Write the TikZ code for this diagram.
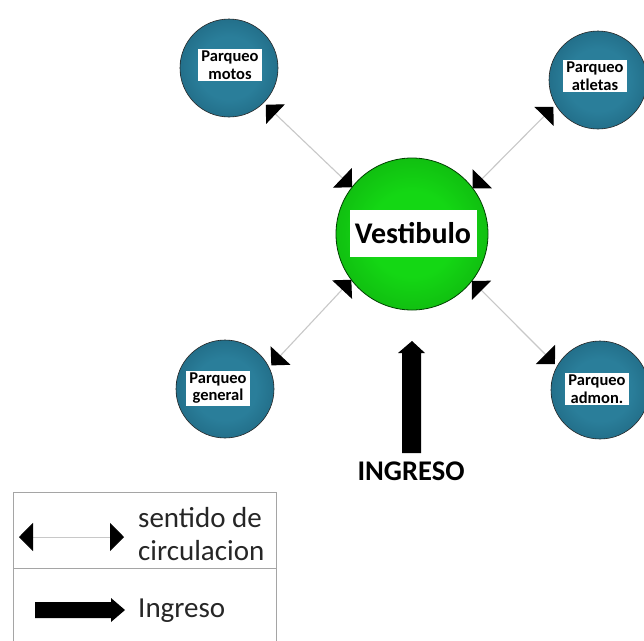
\documentclass[tikz,border=0pt]{standalone}
\usepackage{fontspec}
\setmainfont{Carlito}
\usetikzlibrary{arrows.meta}
\definecolor{bcenter}{RGB}{42,126,154}
\definecolor{bedge}{RGB}{20,80,104}
\definecolor{bdark}{RGB}{12,54,72}
\definecolor{gcenter}{RGB}{20,215,20}
\definecolor{gedge}{RGB}{10,150,10}
\definecolor{gdark}{RGB}{8,105,8}
\definecolor{linegray}{RGB}{200,200,200}
\definecolor{boxgray}{RGB}{165,165,165}
\pgfdeclareradialshading{ballblue}{\pgfpoint{0bp}{0bp}}{color(0bp)=(bcenter); color(16bp)=(bcenter); color(45bp)=(bedge); color(50bp)=(bdark)}
\pgfdeclareradialshading{ballgreen}{\pgfpoint{0bp}{0bp}}{color(0bp)=(gcenter); color(14bp)=(gcenter); color(45bp)=(gedge); color(50bp)=(gdark)}
\tikzset{
  parq/.style={circle, minimum size=98pt, inner sep=0pt, outer sep=3pt, draw=black!85, line width=0.6pt, shading=ballblue},
  vestball/.style={circle, minimum size=152pt, inner sep=0pt, outer sep=0pt, draw=black!75!green, line width=0.8pt, shading=ballgreen},
  lbl/.style={fill=white, inner xsep=3pt, inner ysep=2pt, align=center, font=\fontsize{16.5}{17.5}\selectfont\bfseries},
  circul/.style={draw=linegray, line width=1.1pt, {Triangle[length=13.5pt,width=27pt,color=black]}-{Triangle[length=13.5pt,width=27pt,color=black]}},
  legcircul/.style={draw=linegray, line width=0.9pt, {Triangle[length=14pt,width=28pt,color=black]}-{Triangle[length=14pt,width=28pt,color=black]}},
  legtext/.style={anchor=base west, inner sep=0pt, text=black!85, font=\fontsize{29}{33}\selectfont}
}
\begin{document}
\begin{tikzpicture}[x=1pt,y=-1pt]
\useasboundingbox[fill=white] (0,0) rectangle (644,640);
% circles
\node[parq] (motos) at (229,68) {};
\node[parq] (atletas) at (598,80) {};
\node[parq] (general) at (225,389) {};
\node[parq] (admon) at (600,390) {};
\node[vestball] (vest) at (412,234) {};
% labels
\node[lbl] (motosL) at (230,65) {Parqueo\\motos};
\node[lbl] (atletasL) at (595,76) {Parqueo\\atletas};
\node[lbl] (generalL) at (218,388) {Parqueo\\general};
\node[lbl] (admonL) at (597,389) {Parqueo\\admon.};
\node[fill=white, minimum width=127pt, minimum height=47pt, inner sep=0pt, font=\fontsize{30}{33}\selectfont\bfseries] (vestL) at (413,233) {Vestibulo};
% connectors
\draw[circul] (motos.-45) -- (vest.142.5);
\draw[circul] (atletas.211) -- (vest.37.5);
\draw[circul] (general.27) -- (vest.217.5);
\draw[circul] (admon.150) -- (vest.322.5);
% ingreso arrow
\fill[black] (402,453) -- (402,353) -- (398,353) -- (412,341) -- (425,353) -- (421,353) -- (421,453) -- cycle;
\node[font=\fontsize{28.5}{32}\selectfont\bfseries, inner sep=0pt] (ingreso) at (411,471) {INGRESO};
% legend
\draw[boxgray, line width=1pt] (13,650) -- (13,492) -- (276,492) -- (276,650);
\draw[boxgray, line width=1pt] (13,568) -- (276,568);
\coordinate (legA) at (19,537);
\coordinate (legB) at (124,537);
\draw[legcircul] (legA) -- (legB);
\node[legtext] (leg1a) at (138,527) {sentido de};
\node[legtext] (leg1b) at (138,560) {circulacion};
\fill[black] (35,602) -- (111,602) -- (111,598) -- (125,610) -- (111,622) -- (111,618) -- (35,618) -- cycle;
\node[legtext] (leg2) at (138,617) {Ingreso};
\end{tikzpicture}
\end{document}
